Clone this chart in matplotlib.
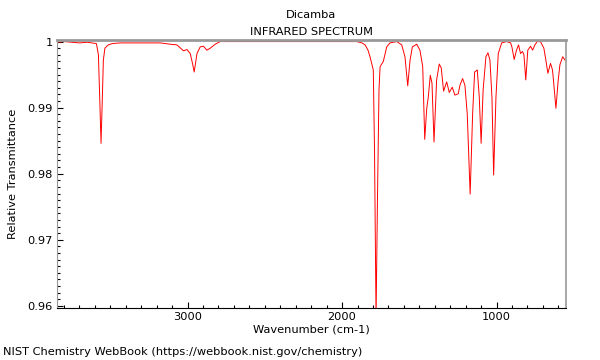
import numpy as np
import matplotlib
matplotlib.use('Agg')
import matplotlib.pyplot as plt
from matplotlib.ticker import MultipleLocator, FormatStrFormatter

# Espectro IR de Dicamba
wavenumber = [3842, 3800, 3750, 3700, 3650, 3620, 3590, 3577, 3568, 3560,
              3551, 3545, 3535, 3513, 3487, 3435, 3306, 3176, 3112, 3069,
              3026, 3004, 2983, 2970, 2957, 2939, 2918, 2897, 2875, 2853,
              2821, 2789, 2595, 2272, 2013, 1905, 1871, 1851, 1832, 1819,
              1798, 1790, 1780, 1771, 1761, 1754, 1733, 1711, 1690, 1646,
              1614, 1593, 1575, 1560, 1545, 1517, 1496, 1478, 1465, 1452,
              1442, 1429, 1418, 1405, 1388, 1371, 1358, 1343, 1323, 1306,
              1287, 1270, 1248, 1237, 1220, 1205, 1190, 1171, 1155, 1142,
              1125, 1112, 1100, 1087, 1069, 1056, 1043, 1030, 1019, 1004,
              989, 967, 935, 909, 901, 886, 871, 858, 845, 832,
              823, 811, 798, 780, 767, 752, 737, 716, 694, 681,
              668, 651, 638, 629, 616, 601, 590, 572, 557]
transmittance = [0.9999, 1.0000, 0.9999, 0.9998, 0.9999, 0.9998, 0.9997, 0.9980, 0.9911, 0.9846,
                 0.9919, 0.9972, 0.9990, 0.9995, 0.9997, 0.9998, 0.9998, 0.9998, 0.9996, 0.9995,
                 0.9986, 0.9988, 0.9982, 0.9969, 0.9954, 0.9982, 0.9992, 0.9993, 0.9987, 0.9990,
                 0.9996, 1.0000, 1.0000, 1.0000, 1.0000, 1.0000, 0.9998, 0.9995, 0.9987, 0.9977,
                 0.9957, 0.9835, 0.9580, 0.9760, 0.9927, 0.9962, 0.9970, 0.9992, 0.9998, 1.0000,
                 0.9995, 0.9977, 0.9933, 0.9972, 0.9992, 0.9996, 0.9987, 0.9962, 0.9852, 0.9899,
                 0.9916, 0.9949, 0.9937, 0.9848, 0.9942, 0.9966, 0.9960, 0.9925, 0.9939, 0.9923,
                 0.9931, 0.9919, 0.9921, 0.9934, 0.9944, 0.9934, 0.9891, 0.9769, 0.9891, 0.9954,
                 0.9957, 0.9916, 0.9846, 0.9927, 0.9977, 0.9983, 0.9972, 0.9916, 0.9798, 0.9916,
                 0.9982, 0.9998, 1.0000, 0.9998, 0.9992, 0.9973, 0.9987, 0.9995, 0.9982, 0.9985,
                 0.9980, 0.9942, 0.9987, 0.9993, 0.9987, 0.9995, 1.0000, 1.0000, 0.9990, 0.9972,
                 0.9952, 0.9967, 0.9957, 0.9934, 0.9899, 0.9942, 0.9965, 0.9977, 0.9972]

fs = 8.2

fig = plt.figure(figsize=(6, 3.6), dpi=100)
ax = fig.add_axes([0.095, 0.145, 0.848, 0.745])
ax.plot(wavenumber, transmittance, color='#ff0000', linewidth=0.7)

ax.set_xlim(3845, 552)
ax.set_ylim(0.9597, 1.0003)
ax.xaxis.set_major_locator(MultipleLocator(1000))
ax.xaxis.set_minor_locator(MultipleLocator(100))
ax.yaxis.set_major_locator(MultipleLocator(0.01))
ax.yaxis.set_minor_locator(MultipleLocator(0.001))
ax.yaxis.set_major_formatter(FormatStrFormatter('%g'))
ax.tick_params(which='both', direction='in', labelsize=fs, width=0.8)
ax.tick_params(which='major', length=4, pad=3)
ax.tick_params(which='minor', length=2)

for s in ['top', 'right', 'left']:
    ax.spines[s].set_color('#999999')
ax.spines['top'].set_linewidth(2)
ax.spines['right'].set_linewidth(1.2)

ax.set_xlabel('Wavenumber (cm-1)', fontsize=fs, labelpad=2)
ax.set_ylabel('Relative Transmittance', fontsize=fs, labelpad=7)
ax.set_title('Dicamba\nINFRARED SPECTRUM', fontsize=fs, linespacing=1.9, pad=3)
fig.text(0.005, 0.015, 'NIST Chemistry WebBook (https://webbook.nist.gov/chemistry)', fontsize=fs)

fig.savefig('out.png', dpi=100)
